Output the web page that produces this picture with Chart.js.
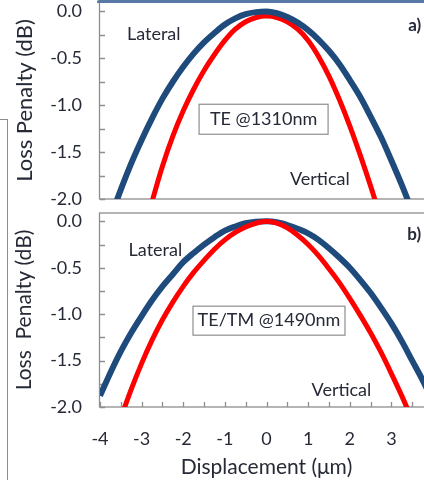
<!DOCTYPE html>
<html>
<head>
<meta charset="utf-8">
<script src="https://cdn.jsdelivr.net/npm/chart.js@4.4.0/dist/chart.umd.min.js"></script>
<style>
  html, body { margin: 0; padding: 0; background: #fff; width: 424px; height: 480px; overflow: hidden; position: relative; }
  canvas { position: absolute; left: 0; }
  #topChart { top: 0; }
  #botChart { top: 205px; }
  .topbar { position: absolute; left: 97px; top: 0; width: 340px; height: 3px; background: #5878a6; border-radius: 2px 0 0 0; }
  .bracket { position: absolute; left: -1px; top: 119px; width: 8px; height: 400px; border-top: 1px solid #8c8c8c; border-right: 1px solid #8c8c8c; }
</style>
</head>
<body>
<div class="bracket"></div>
<canvas id="topChart" width="480" height="215"></canvas>
<canvas id="botChart" width="480" height="275"></canvas>
<div class="topbar"></div>
<script>
// displacement (um)
const xs = [-4, -3.75, -3.5, -3.25, -3, -2.75, -2.5, -2.25, -2, -1.75, -1.5, -1.25, -1, -0.75, -0.5, -0.25,
            0, 0.25, 0.5, 0.75, 1, 1.25, 1.5, 1.75, 2, 2.25, 2.5, 2.75, 3, 3.25, 3.5, 3.75, 4];

// a) TE @1310nm, loss penalty (dB)
const lateral1310 = [null, -2.2, -1.90, -1.62, -1.37, -1.14, -0.93, -0.75, -0.59, -0.45, -0.33, -0.23, -0.14, -0.075, -0.03, -0.008,
                     -0.002, -0.02, -0.06, -0.12, -0.20, -0.30, -0.42, -0.56, -0.73, -0.91, -1.12, -1.34, -1.59, -1.85, -2.13, null, null];
const vertical1310 = [null, null, null, null, -2.45, -2.03, -1.65, -1.33, -1.06, -0.83, -0.63, -0.46, -0.31, -0.19, -0.11, -0.065,
                      -0.05, -0.065, -0.11, -0.19, -0.31, -0.48, -0.69, -0.94, -1.22, -1.53, -1.86, -2.21, -2.57, null, null, null, null];

// b) TE/TM @1490nm
const lateral1490 = [-1.88, -1.63, -1.40, -1.20, -1.02, -0.85, -0.70, -0.57, -0.44, -0.34, -0.25, -0.17, -0.10, -0.055, -0.02, -0.004,
                     0, -0.01, -0.04, -0.08, -0.13, -0.20, -0.29, -0.39, -0.50, -0.63, -0.77, -0.93, -1.10, -1.29, -1.50, -1.71, -1.94];
const vertical1490 = [null, -2.45, -2.12, -1.81, -1.53, -1.28, -1.06, -0.87, -0.70, -0.55, -0.42, -0.30, -0.20, -0.12, -0.06, -0.02,
                      0, -0.02, -0.07, -0.15, -0.25, -0.37, -0.51, -0.66, -0.83, -1.01, -1.20, -1.41, -1.64, -1.88, -2.14, null, null];

const FONT = "Lato, 'Open Sans', sans-serif";
const TEXT = '#262a36';
const FRAME = '#8e8e8e';
const BLUE = '#1f4a7c';
const RED = '#ff0000';

function pts(ys) {
    return xs.map((x, i) => ({ x: x, y: ys[i] }));
}

// frame, inward tick marks and the in-plot labels
const decorPlugin = {
    id: 'decor',
    beforeDatasetsDraw(chart, args, opts) {
        const { ctx, chartArea: a, scales: { x, y } } = chart;
        ctx.save();
        ctx.strokeStyle = FRAME;
        ctx.lineWidth = 1.3;
        ctx.strokeRect(a.left - 0.5, a.top, a.right - a.left, a.bottom - a.top);
        ctx.beginPath();
        for (let v = -2; v <= 0.001; v += 0.25) {
            const py = Math.round(y.getPixelForValue(v)) + 0.5;
            ctx.moveTo(a.left, py);
            ctx.lineTo(a.left + 5, py);
        }
        if (opts.xTicks) {
            for (let v = -4; v <= 4; v += 0.5) {
                const px = Math.round(x.getPixelForValue(v)) + 0.5;
                ctx.moveTo(px, a.bottom);
                ctx.lineTo(px, a.bottom - 5);
            }
        }
        ctx.stroke();
        ctx.restore();
    },
    afterDatasetsDraw(chart, args, opts) {
        const { ctx, scales: { x, y } } = chart;
        ctx.save();
        ctx.textAlign = 'center';
        ctx.textBaseline = 'middle';
        (opts.labels || []).forEach(l => {
            const px = x.getPixelForValue(l.x);
            const py = y.getPixelForValue(l.y);
            if (l.box) {
                ctx.fillStyle = '#fff';
                ctx.strokeStyle = FRAME;
                ctx.lineWidth = 1.2;
                ctx.fillRect(px - l.box[0] / 2, py - l.box[1] / 2, l.box[0], l.box[1]);
                ctx.strokeRect(px - l.box[0] / 2, py - l.box[1] / 2, l.box[0], l.box[1]);
            }
            ctx.fillStyle = TEXT;
            ctx.font = (l.bold ? 'bold ' : '') + l.size + 'px ' + FONT;
            ctx.fillText(l.text, px, py);
        });
        ctx.restore();
    }
};

function panel(id, cfg) {
    return new Chart(document.getElementById(id), {
        type: 'line',
        data: { datasets: cfg.datasets },
        options: {
            responsive: false,
            animation: false,
            layout: { padding: { top: cfg.padTop, bottom: cfg.padBottom, left: 0, right: 47 } },
            elements: {
                point: { radius: 0 },
                line: { cubicInterpolationMode: 'monotone', borderCapStyle: 'butt' }
            },
            plugins: {
                legend: { display: false },
                tooltip: { enabled: false },
                decor: cfg.decor
            },
            scales: {
                x: {
                    type: 'linear',
                    min: -4,
                    max: 4,
                    grid: { display: false, drawTicks: false },
                    border: { display: false },
                    ticks: {
                        display: cfg.xLabels,
                        stepSize: 1,
                        padding: 21,
                        color: TEXT,
                        font: { family: FONT, size: 18 },
                        callback: v => String(v)
                    },
                    title: {
                        display: cfg.xLabels,
                        text: 'Displacement (μm)',
                        color: TEXT,
                        font: { family: FONT, size: 21 },
                        padding: { top: 0, bottom: 0 }
                    },
                    afterFit: s => { s.height = cfg.xHeight; s.paddingLeft = 0; s.paddingRight = 0; }
                },
                y: {
                    min: -2,
                    max: cfg.yMax,
                    grid: { display: false, drawTicks: false },
                    border: { display: false },
                    ticks: {
                        stepSize: 0.5,
                        includeBounds: false,
                        padding: 18,
                        color: TEXT,
                        font: { family: FONT, size: 18 },
                        callback: v => v.toFixed(1)
                    },
                    title: {
                        display: true,
                        text: cfg.yTitle,
                        color: TEXT,
                        font: { family: FONT, size: cfg.yTitleSize },
                        padding: { top: 12, bottom: 0 }
                    },
                    afterFit: s => { s.width = 100; s.paddingTop = 0; s.paddingBottom = 0; }
                }
            }
        },
        plugins: [decorPlugin]
    });
}

panel('topChart', {
    padTop: 2,
    padBottom: 16,
    xHeight: 0,
    xLabels: false,
    yMax: 0.1,
    yTitle: 'Loss Penalty (dB)',
    yTitleSize: 22,
    datasets: [
        { label: 'Lateral', data: pts(lateral1310), borderColor: BLUE, borderWidth: 6, clip: 0 },
        { label: 'Vertical', data: pts(vertical1310), borderColor: RED, borderWidth: 5, clip: 0 }
    ],
    decor: {
        xTicks: false,
        labels: [
            { text: 'Lateral', x: -2.71, y: -0.24, size: 18 },
            { text: 'Vertical', x: 1.28, y: -1.79, size: 18 },
            { text: 'a)', x: 3.56, y: -0.155, size: 17, bold: true },
            { text: 'TE @1310nm', x: -0.07, y: -1.15, size: 18, box: [129, 30] }
        ]
    }
});

panel('botChart', {
    padTop: 8,
    padBottom: 0,
    xHeight: 73,
    xLabels: true,
    yMax: 0.09,
    yTitle: 'Loss  Penalty (dB)',
    yTitleSize: 21,
    datasets: [
        { label: 'Vertical', data: pts(vertical1490), borderColor: RED, borderWidth: 5, clip: 0 },
        { label: 'Lateral', data: pts(lateral1490), borderColor: BLUE, borderWidth: 6, clip: 0 }
    ],
    decor: {
        xTicks: true,
        labels: [
            { text: 'Lateral', x: -2.67, y: -0.31, size: 18 },
            { text: 'Vertical', x: 1.80, y: -1.82, size: 18 },
            { text: 'b)', x: 3.55, y: -0.14, size: 17, bold: true },
            { text: 'TE/TM @1490nm', x: 0.06, y: -1.07, size: 18, box: [152, 29] }
        ]
    }
});
</script>
</body>
</html>
